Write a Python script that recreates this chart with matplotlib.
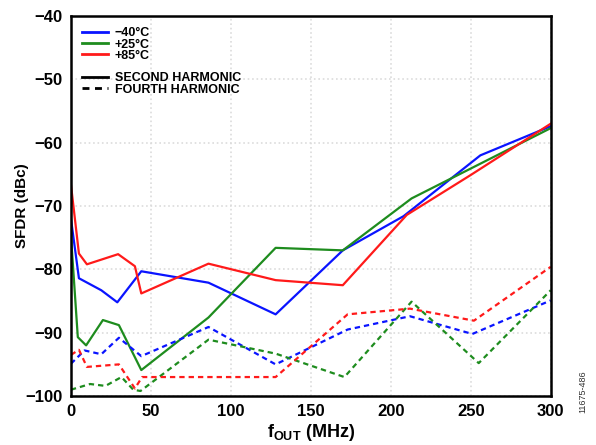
import matplotlib
matplotlib.use('Agg')
import matplotlib.pyplot as plt
from matplotlib.lines import Line2D

plt.rcParams['font.family'] = ['Liberation Sans', 'DejaVu Sans']
plt.rcParams['font.weight'] = 'bold'
plt.rcParams['mathtext.fontset'] = 'custom'
plt.rcParams['mathtext.rm'] = 'Liberation Sans:bold'
plt.rcParams['mathtext.bf'] = 'Liberation Sans:bold'
plt.rcParams['axes.unicode_minus'] = True

# second harmonic (solid)
f_m40_h2 = [0, 5, 19, 29, 44, 86, 128, 170, 208, 256, 300]
v_m40_h2 = [-72, -81.4, -83.3, -85.2, -80.3, -82.1, -87.1, -77, -71.6, -62, -57.4]
f_p25_h2 = [0, 4.3, 9.5, 20, 30, 44, 86, 128, 170, 213, 300]
v_p25_h2 = [-74.6, -90.7, -92, -88, -88.8, -95.9, -87.6, -76.6, -77, -68.8, -57.7]
f_p85_h2 = [0, 5, 10, 29.5, 40, 44, 86, 128, 170, 210, 250, 300]
v_p85_h2 = [-66.6, -77.5, -79.2, -77.6, -79.5, -83.8, -79.1, -81.7, -82.5, -71.4, -65.1, -57]

# fourth harmonic (dashed)
f_m40_h4 = [0, 8.5, 19, 30, 44, 86, 128, 173, 212, 251, 300]
v_m40_h4 = [-94.9, -92.8, -93.4, -90.8, -93.7, -89.1, -95, -89.5, -87.4, -90.2, -84.9]
f_p25_h4 = [0, 12, 21.6, 31.6, 39, 43.5, 86, 128, 171, 213, 255, 300]
v_p25_h4 = [-99, -98.1, -98.4, -97, -99, -99.2, -91.1, -93.3, -97, -85.1, -94.8, -83.3]
f_p85_h4 = [0, 5, 10, 30, 40, 44.5, 128, 173, 212, 252, 300]
v_p85_h4 = [-93.5, -92.7, -95.4, -95, -98.8, -97, -97, -87.1, -86.2, -88.1, -79.6]

temps = ['\u221240\u00b0C', '+25\u00b0C', '+85\u00b0C']
colors = ['#0a14ff', '#1e8c1e', '#ff1a1a']

fig = plt.figure(figsize=(5.96, 4.45), dpi=100)
ax = fig.add_axes([0.119, 0.110, 0.805, 0.854])

lw = 1.6
dash = (0, (2.4, 1.8))
ax.plot(f_m40_h2, v_m40_h2, color=colors[0], lw=lw)
ax.plot(f_p25_h2, v_p25_h2, color=colors[1], lw=lw)
ax.plot(f_p85_h2, v_p85_h2, color=colors[2], lw=lw)
ax.plot(f_m40_h4, v_m40_h4, color=colors[0], lw=lw, ls=dash)
ax.plot(f_p25_h4, v_p25_h4, color=colors[1], lw=lw, ls=dash)
ax.plot(f_p85_h4, v_p85_h4, color=colors[2], lw=lw, ls=dash)

ax.set_xlim(0, 300)
ax.set_ylim(-100, -40)
ax.set_xticks(range(0, 301, 50))
ax.set_yticks(range(-100, -39, 10))
ax.tick_params(length=0, labelsize=12, pad=6)
for lab in ax.get_xticklabels() + ax.get_yticklabels():
    lab.set_fontweight('bold')
ax.grid(True, color='#dcdcdc', ls=':', lw=1.2)
for s in ax.spines.values():
    s.set_linewidth(1.8)

ax.set_ylabel('SFDR (dBc)', fontsize=11, fontweight='bold')
ax.yaxis.set_label_coords(-0.088, 0.5)
ax.set_xlabel(r'$\mathregular{f_{OUT}}$ (MHz)', fontsize=13, fontweight='bold', labelpad=2)

handles = [Line2D([], [], color=c, lw=2) for c in colors]
handles.append(Line2D([], [], color='none'))
handles.append(Line2D([], [], color='black', lw=2))
handles.append(Line2D([], [], color='black', lw=2, ls=(0, (2.5, 2))))
labels = temps + ['', 'SECOND HARMONIC', 'FOURTH HARMONIC']
leg = ax.legend(handles, labels, loc='upper left', frameon=False,
                prop={'weight': 'bold', 'size': 9}, handlelength=2.1,
                handletextpad=0.5, labelspacing=-0.06, borderaxespad=0.6,
                borderpad=0.3)

fig.text(0.978, 0.12, '11675-486', rotation=90, fontsize=6.5,
         fontweight='normal', color='#333333', ha='center', va='center')

fig.savefig('out.png', dpi=100)
